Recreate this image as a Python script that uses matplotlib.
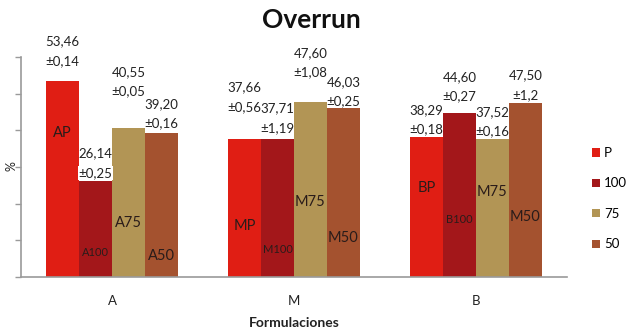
import matplotlib
matplotlib.use("Agg")
import matplotlib.pyplot as plt
import numpy as np

plt.rcParams['font.family'] = ['Lato', 'DejaVu Sans']

# Data
groups = ["A", "M", "B"]
series = ["P", "100", "75", "50"]
values = {
    "P":   [53.46, 37.66, 38.29],
    "100": [26.14, 37.71, 44.60],
    "75":  [40.55, 47.60, 37.52],
    "50":  [39.20, 46.03, 47.50],
}
errors = {
    "P":   ["±0,14", "±0,56", "±0,18"],
    "100": ["±0,25", "±1,19", "±0,27"],
    "75":  ["±0,05", "±1,08", "±0,16"],
    "50":  ["±0,16", "±0,25", "±1,2"],
}
value_text = {
    "P":   ["53,46", "37,66", "38,29"],
    "100": ["26,14", "37,71", "44,60"],
    "75":  ["40,55", "47,60", "37,52"],
    "50":  ["39,20", "46,03", "47,50"],
}
bar_names = {
    "P":   ["AP", "MP", "BP"],
    "100": ["A100", "M100", "B100"],
    "75":  ["A75", "M75", "M75"],
    "50":  ["A50", "M50", "M50"],
}

# Styling
colors = {"P": "#E01E14", "100": "#A3171A", "75": "#B29555", "50": "#A4522F"}
# gap (pixels) between bar top and the "±" line of each value label
label_gap = {"P": [20, 32, 7], "100": [8, 11, 17], "75": [37, 30, 8], "50": [10, 7, 8]}
# height (data units) of the name printed inside each bar
name_y = {"P": [39.3, 13.9, 24.3], "100": [6.8, 7.6, 15.8],
          "75": [14.7, 20.5, 23.2], "50": [5.7, 10.6, 16.4]}
name_size = {"P": 10.5, "100": 8, "75": 10.5, "50": 10.5}

fig = plt.figure(figsize=(6.36, 3.35), dpi=100)
ax = fig.add_axes([0.033, 0.1731, 0.8585, 0.6568])

x = np.arange(len(groups))
width = 0.181
handles = []
for i, s in enumerate(series):
    pos = x + (i - 1.5) * width
    bars = ax.bar(pos, values[s], width, color=colors[s], edgecolor='none', label=s)
    handles.append(bars)
    for j, b in enumerate(bars):
        top = values[s][j]
        cx = pos[j]
        gap = label_gap[s][j]
        ax.annotate(errors[s][j], (cx, top), xytext=(0, gap), textcoords='offset pixels',
                    ha='center', va='center', fontsize=9.5, color='#222222',
                    bbox=dict(facecolor='white', edgecolor='none', pad=0.5) if (s == "100" and j == 0) else None)
        ax.annotate(value_text[s][j], (cx, top), xytext=(0, gap + 19.5), textcoords='offset pixels',
                    ha='center', va='center', fontsize=9.5, color='#222222')
        ax.text(cx, name_y[s][j], bar_names[s][j], ha='center', va='center',
                fontsize=name_size[s], color='#2a1c1a')

ax.set_xlim(-0.5, 2.5)
ax.set_ylim(0, 60)
ax.set_yticks(np.arange(0, 61, 10))
ax.set_yticklabels([])
ax.tick_params(axis='y', direction='out', length=4, color='#9a9a9a', width=1)
ax.set_xticks(x)
ax.set_xticklabels(groups, fontsize=9.5, color='#222222')
ax.tick_params(axis='x', length=0, pad=13)
for sp in ['top', 'right']:
    ax.spines[sp].set_visible(False)
for sp in ['left', 'bottom']:
    ax.spines[sp].set_color('#9a9a9a')
    ax.spines[sp].set_linewidth(1.2)

ax.set_xlabel("Formulaciones", fontsize=10, fontweight='bold', color='#222222', labelpad=7)
fig.text(12 / 636, 0.505, "%", rotation=90, ha='center', va='center', fontsize=9, color='#222222')

fig.text(0.49, 0.94, "Overrun", ha='center', va='center', fontsize=19, fontweight='bold', color='#111111')

leg = ax.legend(handles=handles, labels=series, loc='upper left', bbox_to_anchor=(1.036, 0.615),
                frameon=False, fontsize=9.5, handlelength=0.6, handleheight=0.6,
                handletextpad=0.3, labelspacing=1.4, borderaxespad=0)

fig.savefig("out.png", dpi=100, facecolor='white')
